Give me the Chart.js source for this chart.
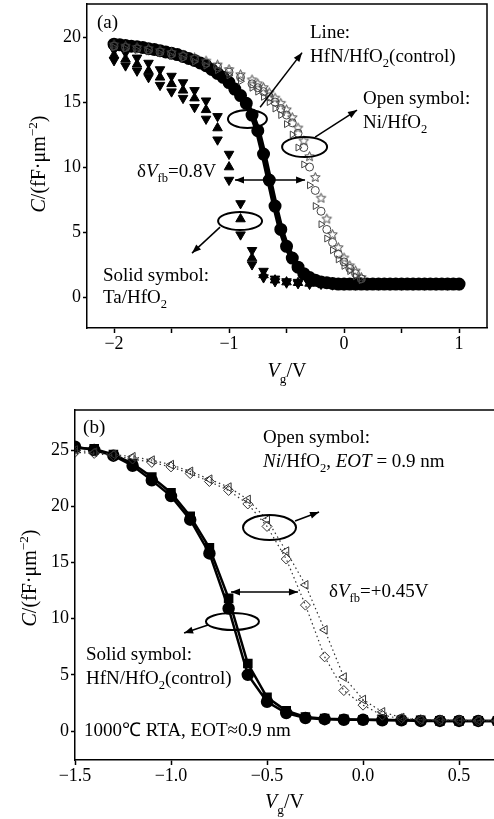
<!DOCTYPE html>
<html>
<head>
<meta charset="utf-8">
<script src="https://cdn.jsdelivr.net/npm/chart.js@4.4.0/dist/chart.umd.min.js"></script>
<style>
  html, body { margin: 0; padding: 0; background: #fff; }
  canvas { position: absolute; left: 0; }
  #cvA { top: 0; }
  #cvB { top: 400px; }
</style>
</head>
<body>
<canvas id="cvA" width="494" height="395"></canvas>
<canvas id="cvB" width="494" height="419"></canvas>
<script>
// ---- (a) gate voltage sweeps, C in fF/um^2 ----
const vTaA = [-2.0, -1.9, -1.8, -1.7, -1.6, -1.5, -1.4, -1.3, -1.2, -1.1, -1.0, -0.9, -0.8, -0.7, -0.6, -0.5,
  -0.4, -0.3, -0.2, -0.1, 0.0, 0.1, 0.2, 0.3, 0.4, 0.5, 0.6, 0.7, 0.8, 0.9, 1.0];
const taTop = [19.0, 18.8, 18.4, 18.0, 17.5, 17.0, 16.5, 15.9, 15.1, 13.9, 11.0, 7.2, 3.6, 2.0, 1.4, 1.2,
  1.15, 1.1, 1.1, 1.05, 1.05, 1.0, 1.0, 1.0, 1.0, 1.0, 1.0, 1.0, 1.0, 1.0, 1.0];
const taMid = [18.6, 18.3, 17.9, 17.4, 16.9, 16.4, 15.9, 15.3, 14.4, 13.0, 10.0, 6.0, 3.0, 1.7, 1.3, 1.15,
  1.1, 1.05, 1.05, 1.0, 1.0, 1.0, 1.0, 0.95, 1.0, 1.0, 0.95, 1.0, 1.0, 0.95, 1.0];
const taBot = [18.2, 17.8, 17.4, 16.9, 16.3, 15.8, 15.3, 14.6, 13.7, 12.1, 9.0, 4.8, 2.5, 1.5, 1.2, 1.1,
  1.05, 1.0, 1.0, 0.95, 0.95, 0.95, 0.95, 0.95, 0.95, 0.95, 0.95, 0.95, 0.95, 0.95, 0.95];

const vCtrlA = [-2.0, -1.95, -1.9, -1.85, -1.8, -1.75, -1.7, -1.65, -1.6, -1.55, -1.5, -1.45, -1.4, -1.35,
  -1.3, -1.25, -1.2, -1.15, -1.1, -1.05, -1.0, -0.95, -0.9, -0.85, -0.8, -0.75, -0.7, -0.65, -0.6, -0.55,
  -0.5, -0.45, -0.4, -0.35, -0.3, -0.25, -0.2, -0.15, -0.1, -0.05, 0.0, 0.05, 0.1, 0.15, 0.2, 0.25, 0.3,
  0.35, 0.4, 0.45, 0.5, 0.55, 0.6, 0.65, 0.7, 0.75, 0.8, 0.85, 0.9, 0.95, 1.0];
const ctrlA = [19.45, 19.4, 19.35, 19.3, 19.25, 19.2, 19.1, 19.05, 18.95, 18.85, 18.75, 18.65, 18.5, 18.35,
  18.2, 18.0, 17.8, 17.5, 17.2, 16.9, 16.5, 16.0, 15.5, 14.9, 14.0, 12.8, 11.0, 9.0, 7.0, 5.2,
  3.9, 3.0, 2.3, 1.8, 1.5, 1.3, 1.15, 1.1, 1.05, 1.0, 1.0, 1.0, 1.0, 1.0, 1.0, 1.0, 1.0,
  1.0, 1.0, 1.0, 1.0, 1.0, 1.0, 1.0, 1.0, 1.0, 1.0, 1.0, 1.0, 1.0, 1.0];

const vNiA = [-2.0, -1.9, -1.8, -1.7, -1.6, -1.5, -1.4, -1.3, -1.2, -1.1, -1.0, -0.9, -0.8, -0.75, -0.7,
  -0.65, -0.6, -0.55, -0.5, -0.45, -0.4, -0.35, -0.3, -0.25, -0.2, -0.15, -0.1, -0.05, 0.0, 0.05, 0.1, 0.15];
const niCircA = [19.3, 19.2, 19.1, 19.0, 18.85, 18.7, 18.5, 18.3, 18.0, 17.7, 17.3, 16.9, 16.4, 16.1, 15.8,
  15.4, 15.0, 14.5, 14.0, 13.4, 12.6, 11.5, 10.0, 8.2, 6.6, 5.2, 4.2, 3.3, 2.7, 2.2, 1.8, 1.4];
const niTriA = [19.2, 19.1, 19.0, 18.9, 18.75, 18.55, 18.35, 18.1, 17.8, 17.45, 17.05, 16.6, 16.1, 15.8, 15.4,
  15.0, 14.5, 14.0, 13.3, 12.5, 11.5, 10.2, 8.6, 7.0, 5.6, 4.5, 3.6, 2.9, 2.4, 2.0, 1.6, 1.3];
const niStarA = [19.4, 19.3, 19.2, 19.1, 18.95, 18.8, 18.6, 18.4, 18.15, 17.85, 17.5, 17.1, 16.7, 16.4, 16.1,
  15.7, 15.3, 14.9, 14.4, 13.8, 13.0, 12.0, 10.8, 9.2, 7.6, 6.0, 4.8, 3.8, 3.0, 2.4, 2.0, 1.5];

const xTicksA = [-2, -1.5, -1, -0.5, 0, 0.5, 1];
const yTicksA = [0, 5, 10, 15, 20];

// ---- (b) 1000C RTA, EOT ~ 0.9 nm ----
const vB = [-1.5, -1.4, -1.3, -1.2, -1.1, -1.0, -0.9, -0.8, -0.7, -0.6, -0.5, -0.4, -0.3, -0.2, -0.1,
  0.0, 0.1, 0.2, 0.3, 0.4, 0.5, 0.6, 0.7];
const ctrlSqB = [25.2, 25.1, 24.6, 23.8, 22.6, 21.2, 19.1, 16.3, 11.8, 6.0, 3.0, 1.8, 1.25, 1.1, 1.05,
  1.0, 1.0, 0.95, 0.95, 0.9, 0.9, 0.9, 0.9];
const ctrlCircB = [25.3, 25.0, 24.5, 23.6, 22.3, 20.9, 18.8, 15.8, 10.9, 5.0, 2.6, 1.6, 1.15, 1.05, 1.0,
  1.0, 0.95, 0.95, 0.9, 0.9, 0.9, 0.9, 0.9];
const niTriB = [25.0, 24.8, 24.6, 24.4, 24.1, 23.7, 23.1, 22.4, 21.7, 20.6, 18.8, 16.0, 13.0, 9.0, 4.8,
  2.8, 1.7, 1.2, 1.0, 1.0, 0.95, 0.95, 0.9];
const niDiaB = [24.8, 24.7, 24.5, 24.2, 23.9, 23.5, 22.9, 22.2, 21.4, 20.2, 18.2, 15.3, 11.2, 6.6, 3.6,
  2.3, 1.4, 1.1, 1.0, 0.95, 0.95, 0.9, 0.9];

const xTicksB = [-1.5, -1.0, -0.5, 0.0, 0.5];
const yTicksB = [0, 5, 10, 15, 20, 25];

const FONT = '"Liberation Serif", "Times New Roman", serif';
const NOTE_SIZE = 19;
const TITLE_SIZE = 20;
const pts = (xs, ys) => xs.map((x, i) => ({ x: x, y: ys[i] }));

// open five-point star marker
function starImage(r) {
  const c = document.createElement('canvas');
  const s = Math.ceil(r * 2 + 3);
  c.width = s; c.height = s;
  const g = c.getContext('2d');
  g.strokeStyle = '#444'; g.lineWidth = 1;
  g.beginPath();
  for (let k = 0; k < 10; k++) {
    const rr = k % 2 ? r * 0.45 : r;
    const a = -Math.PI / 2 + k * Math.PI / 5;
    const px = s / 2 + rr * Math.cos(a), py = s / 2 + rr * Math.sin(a);
    k ? g.lineTo(px, py) : g.moveTo(px, py);
  }
  g.closePath(); g.stroke();
  return c;
}

// text with italic / sub / sup pieces
function drawRich(ctx, x, y, parts, size, align) {
  const small = k => k === 'sub' || k === 'sup' || k === 'isub';
  const fontOf = k => ((k === 'i' || k === 'isub') ? 'italic ' : '') + (small(k) ? size * 0.66 : size) + 'px ' + FONT;
  let w = 0;
  parts.forEach(([t, k]) => { ctx.font = fontOf(k); w += ctx.measureText(t).width; });
  let cx = align === 'center' ? x - w / 2 : x;
  ctx.textAlign = 'left';
  ctx.textBaseline = 'alphabetic';
  parts.forEach(([t, k]) => {
    ctx.font = fontOf(k);
    const dy = (k === 'sub' || k === 'isub') ? size * 0.28 : (k === 'sup' ? -size * 0.42 : 0);
    ctx.fillText(t, cx, y + dy);
    cx += ctx.measureText(t).width;
  });
}

function arrowHead(ctx, x1, y1, x2, y2) {
  const a = Math.atan2(y2 - y1, x2 - x1), L = 9, W = 3.5;
  ctx.beginPath();
  ctx.moveTo(x2, y2);
  ctx.lineTo(x2 - L * Math.cos(a) + W * Math.sin(a), y2 - L * Math.sin(a) - W * Math.cos(a));
  ctx.lineTo(x2 - L * Math.cos(a) - W * Math.sin(a), y2 - L * Math.sin(a) + W * Math.cos(a));
  ctx.closePath();
  ctx.fill();
}

const yTitle = [['C', 'i'], ['/(fF\u00b7\u03bcm', 'n'], ['\u22122', 'sup'], [')', 'n']];
const xTitle = [['V', 'i'], ['g', 'sub'], ['/V', 'n']];

function notesPlugin(n) {
  return {
    id: 'notes',
    afterDraw(chart) {
      const { ctx, chartArea: a } = chart;
      const X = v => chart.scales.x.getPixelForValue(v);
      const Y = v => chart.scales.y.getPixelForValue(v);
      ctx.save();
      ctx.strokeStyle = '#000';
      ctx.fillStyle = '#000';
      ctx.lineWidth = 1.5;
      ctx.beginPath();
      ctx.moveTo(a.left, a.top);
      ctx.lineTo(a.right, a.top);
      if (n.rightEdge) ctx.lineTo(a.right, a.bottom);
      ctx.stroke();

      ctx.lineWidth = 2;
      n.ellipses.forEach(e => {
        ctx.beginPath();
        ctx.ellipse(X(e.x), Y(e.y), e.rx, e.ry, 0, 0, Math.PI * 2);
        ctx.stroke();
      });
      ctx.lineWidth = 1.5;
      n.arrows.forEach(r => {
        const x1 = X(r.x1), y1 = Y(r.y1), x2 = X(r.x2), y2 = Y(r.y2);
        ctx.beginPath(); ctx.moveTo(x1, y1); ctx.lineTo(x2, y2); ctx.stroke();
        arrowHead(ctx, x1, y1, x2, y2);
        if (r.both) arrowHead(ctx, x2, y2, x1, y1);
      });
      n.texts.forEach(t => drawRich(ctx, X(t.x), Y(t.y), t.parts, NOTE_SIZE, 'left'));

      drawRich(ctx, (a.left + a.right) / 2, n.xTitleY, xTitle, TITLE_SIZE, 'center');
      ctx.translate(n.yTitleX, n.yTitleMid);
      ctx.rotate(-Math.PI / 2);
      drawRich(ctx, 0, 0, yTitle, TITLE_SIZE, 'center');
      ctx.restore();
    }
  };
}

function axes(xr, yr, xt, yt, xFmt, yW, xH) {
  const tickFont = { family: FONT, size: 18 };
  return {
    x: {
      type: 'linear', min: xr[0], max: xr[1],
      afterBuildTicks: s => { s.ticks = xt.map(v => ({ value: v })); },
      // fixed axis box, no extra room for edge labels
      afterFit: s => { s.height = xH; s.paddingLeft = 0; s.paddingRight = 0; },
      ticks: { callback: xFmt, font: tickFont, color: '#000', padding: 0, maxRotation: 0, autoSkip: false },
      grid: { drawOnChartArea: false, tickLength: 5, tickColor: '#000', tickWidth: 1.5 },
      border: { color: '#000', width: 1.5 }
    },
    y: {
      type: 'linear', min: yr[0], max: yr[1],
      afterBuildTicks: s => { s.ticks = yt.map(v => ({ value: v })); },
      afterFit: s => { s.width = yW; s.paddingTop = 0; s.paddingBottom = 0; },
      ticks: { callback: v => String(v), font: tickFont, color: '#000', padding: 2 },
      grid: { drawOnChartArea: false, tickLength: 4, tickColor: '#000', tickWidth: 1.5 },
      border: { color: '#000', width: 1.5 }
    }
  };
}

const common = {
  responsive: false,
  animation: false,
  devicePixelRatio: 1,
  plugins: { legend: { display: false }, tooltip: { enabled: false } }
};

// ---------- chart (a) ----------
const openA = { showLine: false, pointBackgroundColor: 'rgba(0,0,0,0)', pointBorderColor: '#444', pointBorderWidth: 1, pointRadius: 4 };
const solidTa = { pointRadius: 5.5, pointBackgroundColor: '#000', pointBorderColor: '#000', order: 3 };
new Chart(document.getElementById('cvA'), {
  type: 'scatter',
  data: {
    datasets: [
      Object.assign({ data: pts(vNiA, niCircA), pointStyle: 'circle', order: 1 }, openA),
      Object.assign({ data: pts(vNiA, niTriA), pointStyle: 'triangle', rotation: 90, order: 1 }, openA),
      Object.assign({ data: pts(vNiA, niStarA), pointStyle: starImage(5), order: 1 }, openA),
      { data: pts(vCtrlA, ctrlA), showLine: true, borderColor: '#000', borderWidth: 6, pointRadius: 3.5,
        pointBackgroundColor: '#000', pointBorderColor: '#000', pointStyle: 'circle', order: 2 },
      Object.assign({ data: pts(vTaA, taTop), pointStyle: 'triangle', rotation: 180 }, solidTa),
      Object.assign({ data: pts(vTaA, taMid), pointStyle: 'triangle' }, solidTa),
      Object.assign({ data: pts(vTaA, taBot), pointStyle: 'triangle', rotation: 180 }, solidTa)
    ]
  },
  options: Object.assign({}, common, {
    layout: { autoPadding: false, padding: { left: 0, top: 4, right: 7, bottom: 0 } },
    scales: axes([-2.235, 1.243], [-2.38, 22.54], xTicksA, yTicksA,
      v => Number.isInteger(v) ? (v < 0 ? '\u2212' + Math.abs(v) : String(v)) : '', 87, 67)
  }),
  plugins: [notesPlugin({
    rightEdge: true,
    xTitleY: 377, yTitleX: 45, yTitleMid: 164,
    ellipses: [
      { x: -0.84, y: 13.7, rx: 19.5, ry: 9 },
      { x: -0.343, y: 11.54, rx: 22.5, ry: 10 },
      { x: -0.904, y: 5.85, rx: 22, ry: 9 }
    ],
    arrows: [
      { x1: -0.73, y1: 14.6, x2: -0.365, y2: 18.8 },
      { x1: -0.252, y1: 12.31, x2: 0.113, y2: 14.38 },
      { x1: -1.078, y1: 5.38, x2: -1.322, y2: 3.38 },
      { x1: -0.948, y1: 9.0, x2: -0.339, y2: 9.0, both: true }
    ],
    texts: [
      { x: -2.148, y: 20.69, parts: [['(a)', 'n']] },
      { x: -0.296, y: 19.92, parts: [['Line:', 'n']] },
      { x: -0.296, y: 18.08, parts: [['HfN/HfO', 'n'], ['2', 'sub'], ['(control)', 'n']] },
      { x: 0.165, y: 14.85, parts: [['Open symbol:', 'n']] },
      { x: 0.165, y: 13.0, parts: [['Ni/HfO', 'n'], ['2', 'sub']] },
      { x: -1.8, y: 9.23, parts: [['\u03b4', 'n'], ['V', 'i'], ['fb', 'sub'], ['=0.8V', 'n']] },
      { x: -2.096, y: 1.23, parts: [['Solid symbol:', 'n']] },
      { x: -2.096, y: -0.46, parts: [['Ta/HfO', 'n'], ['2', 'sub']] }
    ]
  })]
});

// ---------- chart (b) ----------
const openB = { showLine: true, borderColor: '#333', borderWidth: 1.2, borderDash: [1.5, 3],
  pointBackgroundColor: 'rgba(0,0,0,0)', pointBorderColor: '#333', pointBorderWidth: 1, pointRadius: 5 };
new Chart(document.getElementById('cvB'), {
  type: 'scatter',
  data: {
    datasets: [
      Object.assign({ data: pts(vB, niTriB), pointStyle: 'triangle', rotation: 270, order: 1 }, openB),
      Object.assign({ data: pts(vB, niDiaB), pointStyle: 'rectRot', order: 1 }, openB),
      { data: pts(vB, ctrlSqB), showLine: true, borderColor: '#000', borderWidth: 2.5, pointStyle: 'rect',
        pointRadius: 5, pointBackgroundColor: '#000', pointBorderColor: '#000', order: 2 },
      { data: pts(vB, ctrlCircB), showLine: true, borderColor: '#000', borderWidth: 2.5, pointStyle: 'circle',
        pointRadius: 5, pointBackgroundColor: '#000', pointBorderColor: '#000', order: 2 }
    ]
  },
  options: Object.assign({}, common, {
    layout: { autoPadding: false, padding: { left: 0, top: 10, right: 0, bottom: 0 } },
    scales: axes([-1.5, 0.682], [-2.58, 28.56], xTicksB, yTicksB,
      v => (v < 0 ? '\u2212' : '') + Math.abs(v).toFixed(1), 75, 59)
  }),
  plugins: [notesPlugin({
    rightEdge: false,
    xTitleY: 408, yTitleX: 36, yTitleMid: 178,
    ellipses: [
      { x: -0.487, y: 18.1, rx: 26.5, ry: 12.5 },
      { x: -0.68, y: 9.74, rx: 26.5, ry: 8.5 }
    ],
    arrows: [
      { x1: -0.354, y1: 18.68, x2: -0.229, y2: 19.48 },
      { x1: -0.807, y1: 9.43, x2: -0.932, y2: 8.72 },
      { x1: -0.6875, y1: 12.37, x2: -0.339, y2: 12.37, both: true }
    ],
    texts: [
      { x: -1.458, y: 26.51, parts: [['(b)', 'n']] },
      { x: -0.521, y: 25.62, parts: [['Open symbol:', 'n']] },
      { x: -0.521, y: 23.49, parts: [['Ni', 'i'], ['/HfO', 'n'], ['2', 'sub'], [', ', 'n'], ['EOT', 'i'], [' = 0.9 nm', 'n']] },
      { x: -0.177, y: 11.92, parts: [['\u03b4', 'n'], ['V', 'i'], ['fb', 'sub'], ['=+0.45V', 'n']] },
      { x: -1.443, y: 6.32, parts: [['Solid symbol:', 'n']] },
      { x: -1.443, y: 4.18, parts: [['HfN/HfO', 'n'], ['2', 'sub'], ['(control)', 'n']] },
      { x: -1.453, y: -0.44, parts: [['1000\u2103 RTA, EOT\u22480.9 nm', 'n']] }
    ]
  })]
});
</script>
</body>
</html>
